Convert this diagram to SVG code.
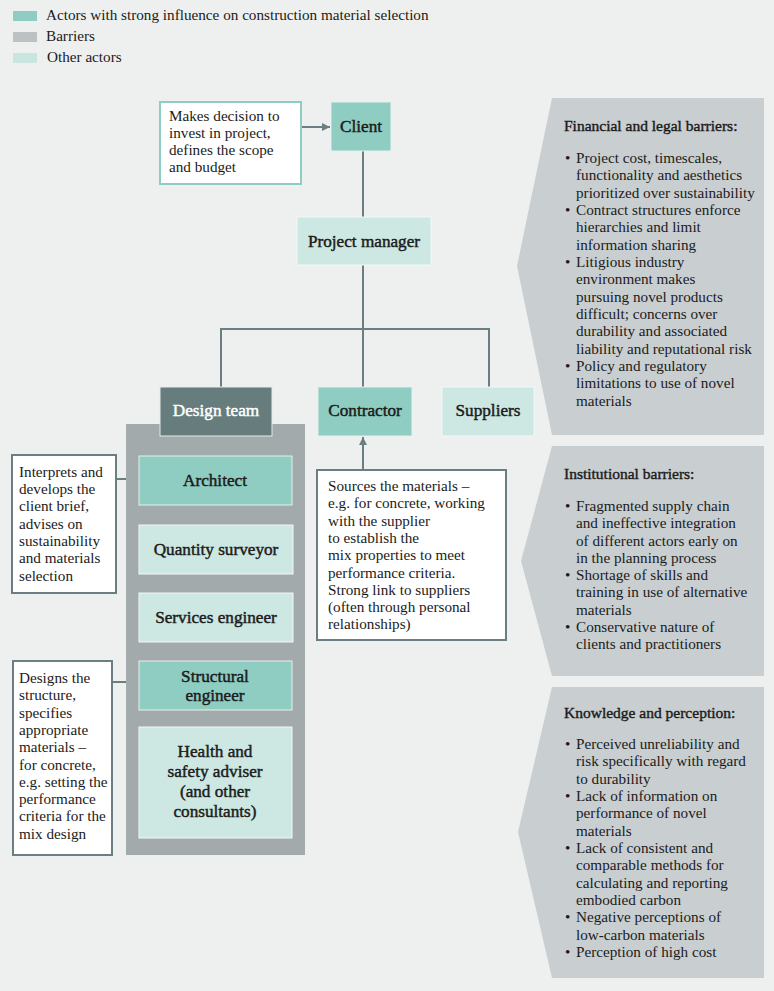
<svg xmlns="http://www.w3.org/2000/svg" width="774" height="991" viewBox="0 0 774 991">
<defs>
<marker id="arr" viewBox="0 0 10 10" refX="10" refY="5" markerWidth="4" markerHeight="4" orient="auto" markerUnits="strokeWidth">
<path d="M0,0 L10,5 L0,10 z" fill="#6b7f82"/>
</marker>
<style>
text{font-family:"Liberation Serif","Times New Roman",serif;fill:#1b1b1b}
.body{font-size:15.2px}
.lbl{font-size:17.2px;text-anchor:middle;stroke:#1b1b1b;stroke-width:0.45}
.ttl{font-size:15.5px;stroke:#1b1b1b;stroke-width:0.4}
.strong{fill:#8fcdc2;stroke:#e4f0ed;stroke-width:1}
.other{fill:#cde7e2;stroke:#f2f8f6;stroke-width:1}
.barrier{fill:#c9ced0}
.note{fill:#ffffff;stroke:#6b7f82;stroke-width:2}
.conn{stroke:#6b7f82;stroke-width:2;fill:none}
</style>
</defs>
<rect x="0" y="0" width="774" height="991" fill="#eef0ef"/>

<g id="legend">
<rect x="13" y="11" width="24" height="10" fill="#8fcdc2"/>
<text class="body" x="46" y="20">Actors with strong influence on construction material selection</text>
<rect x="13" y="32" width="24" height="10" fill="#bcc1c4"/>
<text class="body" x="46" y="41">Barriers</text>
<rect x="13" y="53" width="24" height="10" fill="#c8e6df"/>
<text class="body" x="47" y="62">Other actors</text>
</g>

<g id="connectors">
<line class="conn" x1="363" y1="151" x2="363" y2="217"/>
<line class="conn" x1="363" y1="265" x2="363" y2="387"/>
<polyline class="conn" points="221,387 221,329 489,329 489,387"/>
<line class="conn" x1="302" y1="127" x2="330" y2="127" marker-end="url(#arr)"/>
<line class="conn" x1="116" y1="479" x2="138" y2="479" marker-end="url(#arr)"/>
<line class="conn" x1="113" y1="682" x2="138" y2="682" marker-end="url(#arr)"/>
<line class="conn" x1="363" y1="469" x2="363" y2="437" marker-end="url(#arr)"/>
</g>

<g id="note-client">
<rect x="160" y="102" width="141" height="82" fill="#ffffff" stroke="#8fcdc2" stroke-width="2"/>
<text class="body" x="169"><tspan x="169" y="121">Makes decision to</tspan><tspan x="169" y="138">invest in project,</tspan><tspan x="169" y="155">defines the scope</tspan><tspan x="169" y="172">and budget</tspan></text>
</g>

<g id="client">
<rect class="strong" x="331" y="102" width="60" height="49"/>
<text class="lbl" x="361" y="132">Client</text>
</g>

<g id="project-manager">
<rect class="other" x="297" y="217" width="134" height="48"/>
<text class="lbl" x="364" y="247">Project manager</text>
</g>

<g id="design-team">
<rect x="126" y="424" width="179" height="431" fill="#a2aaab"/>
<rect x="160" y="387" width="112" height="49" fill="#677d7d" stroke="#e4ecea" stroke-width="1"/>
<text class="lbl" x="216" y="416" style="fill:#ffffff;stroke:#ffffff">Design team</text>
</g>

<g id="architect">
<rect class="strong" x="139" y="456" width="153" height="49"/>
<text class="lbl" x="215" y="486">Architect</text>
</g>

<g id="quantity-surveyor">
<rect class="other" x="139" y="525" width="154" height="49"/>
<text class="lbl" x="216" y="555">Quantity surveyor</text>
</g>

<g id="services-engineer">
<rect class="other" x="139" y="593" width="154" height="49"/>
<text class="lbl" x="216" y="623">Services engineer</text>
</g>

<g id="structural-engineer">
<rect class="strong" x="139" y="661" width="153" height="49"/>
<text class="lbl" x="215"><tspan x="215" y="682">Structural</tspan><tspan x="215" y="701">engineer</tspan></text>
</g>

<g id="health-safety">
<rect class="other" x="139" y="727" width="153" height="111"/>
<text class="lbl" x="215"><tspan x="215" y="757">Health and</tspan><tspan x="215" y="777">safety adviser</tspan><tspan x="215" y="797">(and other</tspan><tspan x="215" y="817">consultants)</tspan></text>
</g>

<g id="contractor">
<rect class="strong" x="318" y="387" width="94" height="49"/>
<text class="lbl" x="365" y="416">Contractor</text>
</g>

<g id="suppliers">
<rect class="other" x="442" y="387" width="92" height="49"/>
<text class="lbl" x="488" y="416">Suppliers</text>
</g>

<g id="note-architect">
<rect class="note" x="12" y="455" width="104" height="138"/>
<text class="body"><tspan x="19" y="477">Interprets and</tspan><tspan x="19" y="494">develops the</tspan><tspan x="19" y="511">client brief,</tspan><tspan x="19" y="529">advises on</tspan><tspan x="19" y="546">sustainability</tspan><tspan x="19" y="563">and materials</tspan><tspan x="19" y="581">selection</tspan></text>
</g>

<g id="note-structural">
<rect class="note" x="13" y="661" width="99" height="194"/>
<text class="body"><tspan x="19" y="683">Designs the</tspan><tspan x="19" y="700">structure,</tspan><tspan x="19" y="718">specifies</tspan><tspan x="19" y="735">appropriate</tspan><tspan x="19" y="752">materials –</tspan><tspan x="19" y="770">for concrete,</tspan><tspan x="19" y="787">e.g. setting the</tspan><tspan x="19" y="804">performance</tspan><tspan x="19" y="821">criteria for the</tspan><tspan x="19" y="839">mix design</tspan></text>
</g>

<g id="note-contractor">
<rect class="note" x="317" y="470" width="189" height="170"/>
<text class="body"><tspan x="328" y="491">Sources the materials –</tspan><tspan x="328" y="508">e.g. for concrete, working</tspan><tspan x="328" y="526">with the supplier</tspan><tspan x="328" y="543">to establish the</tspan><tspan x="328" y="560">mix properties to meet</tspan><tspan x="328" y="578">performance criteria.</tspan><tspan x="328" y="595">Strong link to suppliers</tspan><tspan x="328" y="612">(often through personal</tspan><tspan x="328" y="629">relationships)</tspan></text>
</g>

<g id="barrier-financial">
<polygon class="barrier" points="552,98 764,98 764,435 552,435 517,266"/>
<text class="ttl" x="564" y="131">Financial and legal barriers:</text>
<text class="body"><tspan x="565" y="163">•</tspan><tspan x="576" y="163">Project cost, timescales,</tspan><tspan x="576" y="180">functionality and aesthetics</tspan><tspan x="576" y="198">prioritized over sustainability</tspan><tspan x="565" y="215">•</tspan><tspan x="576" y="215">Contract structures enforce</tspan><tspan x="576" y="232">hierarchies and limit</tspan><tspan x="576" y="250">information sharing</tspan><tspan x="565" y="267">•</tspan><tspan x="576" y="267">Litigious industry</tspan><tspan x="576" y="284">environment makes</tspan><tspan x="576" y="302">pursuing novel products</tspan><tspan x="576" y="319">difficult; concerns over</tspan><tspan x="576" y="336">durability and associated</tspan><tspan x="576" y="354">liability and reputational risk</tspan><tspan x="565" y="371">•</tspan><tspan x="576" y="371">Policy and regulatory</tspan><tspan x="576" y="388">limitations to use of novel</tspan><tspan x="576" y="406">materials</tspan></text>
</g>

<g id="barrier-institutional">
<polygon class="barrier" points="552,446 764,446 764,676 552,676 521,561"/>
<text class="ttl" x="564" y="479">Institutional barriers:</text>
<text class="body"><tspan x="565" y="511">•</tspan><tspan x="576" y="511">Fragmented supply chain</tspan><tspan x="576" y="528">and ineffective integration</tspan><tspan x="576" y="546">of different actors early on</tspan><tspan x="576" y="563">in the planning process</tspan><tspan x="565" y="580">•</tspan><tspan x="576" y="580">Shortage of skills and</tspan><tspan x="576" y="597">training in use of alternative</tspan><tspan x="576" y="615">materials</tspan><tspan x="565" y="632">•</tspan><tspan x="576" y="632">Conservative nature of</tspan><tspan x="576" y="649">clients and practitioners</tspan></text>
</g>

<g id="barrier-knowledge">
<polygon class="barrier" points="552,687 764,687 764,978 552,978 518,832"/>
<text class="ttl" x="564" y="718">Knowledge and perception:</text>
<text class="body"><tspan x="565" y="749">•</tspan><tspan x="576" y="749">Perceived unreliability and</tspan><tspan x="576" y="766">risk specifically with regard</tspan><tspan x="576" y="784">to durability</tspan><tspan x="565" y="801">•</tspan><tspan x="576" y="801">Lack of information on</tspan><tspan x="576" y="818">performance of novel</tspan><tspan x="576" y="836">materials</tspan><tspan x="565" y="853">•</tspan><tspan x="576" y="853">Lack of consistent and</tspan><tspan x="576" y="870">comparable methods for</tspan><tspan x="576" y="888">calculating and reporting</tspan><tspan x="576" y="905">embodied carbon</tspan><tspan x="565" y="922">•</tspan><tspan x="576" y="922">Negative perceptions of</tspan><tspan x="576" y="940">low-carbon materials</tspan><tspan x="565" y="957">•</tspan><tspan x="576" y="957">Perception of high cost</tspan></text>
</g>
</svg>
